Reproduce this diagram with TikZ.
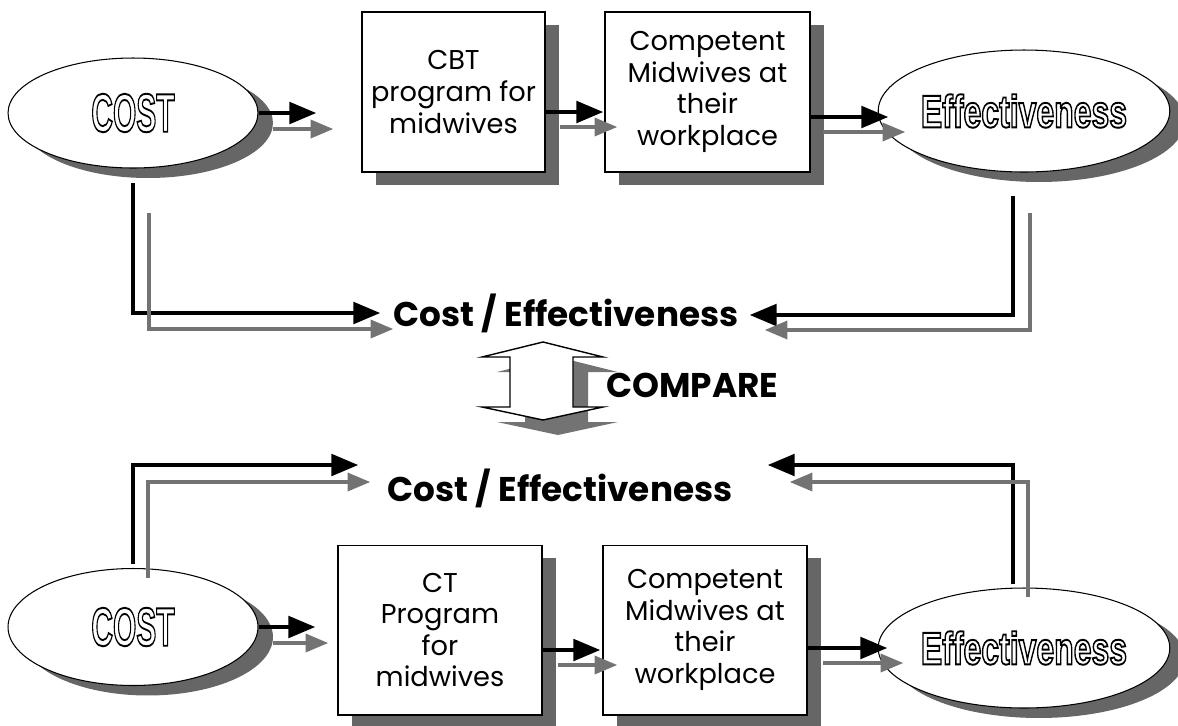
\documentclass[tikz,border=0pt]{standalone}
\usepackage{fontspec}
\setmainfont{Poppins}
\newfontfamily\hollowfont{Liberation Sans}
\usetikzlibrary{shapes,arrows}
\usetikzlibrary{positioning}
\usetikzlibrary{shadows}
\usetikzlibrary{calc}
\tikzstyle{block} = [rectangle, draw, fill=white, line width=0.6pt,
    align=center, inner sep=0pt, font=\fontsize{15.5}{18}\selectfont,
    drop shadow={shadow xshift=0.28cm, shadow yshift=-0.26cm,
                 fill=black!60, opacity=1}]
\tikzstyle{oval} = [ellipse, draw, fill=white, line width=0.6pt, inner sep=0pt,
    drop shadow={shadow xshift=0.3cm, shadow yshift=-0.2cm,
                 fill=black!60, opacity=1}]
\tikzstyle{bigtext} = [inner sep=0pt, font=\fontsize{19.5}{22}\selectfont\bfseries]
\tikzstyle{line} = [draw, line width=2.6pt, -triangle 45]
\tikzstyle{shadowline} = [draw, black!55, line width=2pt, -triangle 45]
% white letters with a black outline (text render mode 2)
\newcommand{\hollow}[2]{\scalebox{#1}[1]{\hollowfont\bfseries{\color{white}%
  \special{pdf:literal q 0 G 2 Tr 1.1 w}#2\special{pdf:literal Q}}}}

\begin{document}
\begin{tikzpicture}[x=0.02cm, y=-0.02cm]
\useasboundingbox (0,0) rectangle (1178,725);
% Place nodes
\node [oval, minimum width=5cm, minimum height=2.2cm,
       font=\fontsize{31}{31}\selectfont] (cost) at (133,113) {\hollow{0.55}{COST}};
\node [block, minimum width=3.66cm, minimum height=3.2cm] (cbt) at (453.5,92)
      {CBT\\program for\\midwives};
\node [block, minimum width=4.1cm, minimum height=3.2cm] (comp1) at (707.5,92)
      {Competent\\Midwives at\\their\\workplace};
\node [oval, minimum width=5.36cm, minimum height=2.44cm,
       font=\fontsize{26}{26}\selectfont] (eff1) at (1024,111) {\hollow{0.7}{Effectiveness}};

\node [bigtext] (ce1) at (566,313) {Cost / Effectiveness};
\node [bigtext, anchor=west] (cmp) at (606,385) {COMPARE};
\node [bigtext] (ce2) at (560,488) {Cost / Effectiveness};

\node [oval, minimum width=5cm, minimum height=2.34cm,
       font=\fontsize{31}{31}\selectfont] (cost2) at (133,627) {\hollow{0.55}{COST}};
\node [block, minimum width=4.08cm, minimum height=3.4cm] (ct) at (440,630)
      {CT\\Program\\for\\midwives};
\node [block, minimum width=4.08cm, minimum height=3.4cm] (comp2) at (705,630)
      {Competent\\Midwives at\\their\\workplace};
\node [oval, minimum width=5.36cm, minimum height=2.4cm,
       font=\fontsize{26}{26}\selectfont] (eff2) at (1024,648) {\hollow{0.7}{Effectiveness}};

% Compare arrow
\fill [black!55, shift={(15,15)}] (543,342) -- (603,357) -- (573,357) -- (573,407)
  -- (603,407) -- (543,420) -- (482,407) -- (510,407) -- (510,357) -- (482,357) -- cycle;
\filldraw [fill=white, draw=black, line width=0.8pt] (543,342) -- (603,357) -- (573,357)
  -- (573,407) -- (603,407) -- (543,420) -- (482,407) -- (510,407) -- (510,357)
  -- (482,357) -- cycle;

% Arrow tips
\coordinate (a1) at (316,113);  \coordinate (a1g) at (333,129);
\coordinate (a2) at (603,112);  \coordinate (a2g) at (617,127);
\coordinate (a3) at (888,117);  \coordinate (a3g) at (905,132);
\coordinate (b1) at (315,627);  \coordinate (b1g) at (328,643);
\coordinate (b2) at (600,650);  \coordinate (b2g) at (617,665);
\coordinate (b3) at (887,648);  \coordinate (b3g) at (903,663);
\coordinate (ce1a) at (380,313); \coordinate (ce1b) at (393,329);
\coordinate (ce1c) at (750,315); \coordinate (ce1d) at (765,330);
\coordinate (ce2a) at (358,465); \coordinate (ce2b) at (370,482);
\coordinate (ce2c) at (768,465); \coordinate (ce2d) at (790,482);

% Draw edges
\path [line] (cost.east) -- (a1);
\path [shadowline] ($(cost.east)+(14,16)$) -- (a1g);
\path [line] ($(cbt.east)+(0,20)$) -- (a2);
\path [shadowline] ($(cbt.east)+(14,35)$) -- (a2g);
\path [line] ($(comp1.east)+(0,25)$) -- (a3);
\path [shadowline] ($(comp1.east)+(12,40)$) -- (a3g);

\path [line] ($(cost.south)+(0,14)$) |- (ce1a);
\path [shadowline] ($(cost.south)+(16,44)$) |- (ce1b);
\path [line] ($(eff1.south)+(-11,23)$) |- (ce1c);
\path [shadowline] ($(eff1.south)+(6,40)$) |- (ce1d);

\path [line] ($(cost2.north)+(0,-4)$) |- (ce2a);
\path [shadowline] ($(cost2.north)+(15,10)$) |- (ce2b);
\path [line] ($(eff2.north)+(-11,-3)$) |- (ce2c);
\path [shadowline] ($(eff2.north)+(4,10)$) |- (ce2d);

\path [line] (cost2.east) -- (b1);
\path [shadowline] ($(cost2.east)+(14,16)$) -- (b1g);
\path [line] ($(ct.east)+(0,20)$) -- (b2);
\path [shadowline] ($(ct.east)+(15,35)$) -- (b2g);
\path [line] ($(comp2.east)+(0,18)$) -- (b3);
\path [shadowline] ($(comp2.east)+(15,33)$) -- (b3g);
\end{tikzpicture}
\end{document}
